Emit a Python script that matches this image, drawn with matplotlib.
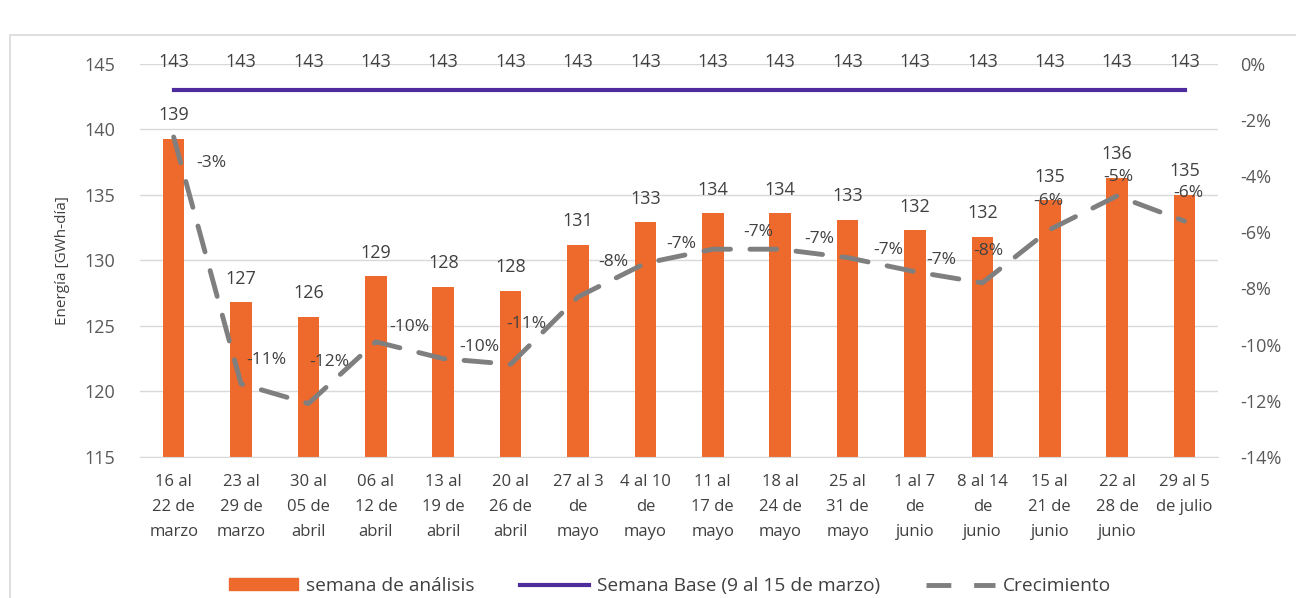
import matplotlib.pyplot as plt
import matplotlib.patches as patches
from matplotlib.ticker import FuncFormatter
from matplotlib.lines import Line2D

# Datos
semanas = [
    "16 al\n22 de\nmarzo", "23 al\n29 de\nmarzo", "30 al\n05 de\nabril",
    "06 al\n12 de\nabril", "13 al\n19 de\nabril", "20 al\n26 de\nabril",
    "27 al 3\nde\nmayo", "4 al 10\nde\nmayo", "11 al\n17 de\nmayo",
    "18 al\n24 de\nmayo", "25 al\n31 de\nmayo", "1 al 7\nde\njunio",
    "8 al 14\nde\njunio", "15 al\n21 de\njunio", "22 al\n28 de\njunio",
    "29 al 5\nde julio",
]
energia = [139.3, 126.8, 125.7, 128.8, 128.0, 127.7, 131.2, 132.9,
           133.6, 133.6, 133.1, 132.3, 131.8, 134.6, 136.3, 135.0]
semana_base = [143] * 16
crecimiento = [-2.6, -11.4, -12.1, -9.9, -10.5, -10.7, -8.3, -7.1,
               -6.6, -6.6, -6.9, -7.4, -7.8, -5.9, -4.7, -5.6]

# desplazamiento (px) de las etiquetas de crecimiento, como en el original
desplaz = [(23, -26), (5, 24), (1, 42), (13, 15), (16, 12), (-4, 40), (20, 35),
           (21, 19), (30, 17), (24, 10), (26, 8), (11, 12), (-9, 32), (-17, 29),
           (-14, 19), (-11, 28)]

NARANJA = '#EE6A2C'
MORADO = '#4E2C9E'
GRIS = '#7F7F7F'
TEXTO = '#404040'

plt.rcParams['font.family'] = ['Open Sans', 'DejaVu Sans']

fig = plt.figure(figsize=(12.96, 5.98), dpi=100)
ax = fig.add_axes([0.108, 0.236, 0.832, 0.657])
ax2 = ax.twinx()

x = list(range(len(semanas)))

# Barras
ax.bar(x, energia, width=0.32, color=NARANJA, zorder=2)
for xi, v in zip(x, energia):
    ax.annotate(f"{v:.0f}", (xi, v), xytext=(0, 10.5), textcoords='offset points',
                ha='center', va='bottom', fontsize=13, color=TEXTO)

# Semana base
ax.plot(x, semana_base, color=MORADO, linewidth=3, zorder=3)
for xi, v in zip(x, semana_base):
    ax.annotate(f"{v}", (xi, v), xytext=(0, 14), textcoords='offset points',
                ha='center', va='bottom', fontsize=13, color=TEXTO,
                annotation_clip=False)

# Crecimiento (eje secundario)
ax2.plot(x, crecimiento, color=GRIS, linewidth=3.5, dashes=(5.5, 4),
         dash_capstyle='round', zorder=4)
for xi, v, (dx, dy) in zip(x, crecimiento, desplaz):
    ax2.annotate(f"{v:.0f}%", (xi, v), xytext=(dx, dy), textcoords='offset pixels',
                 ha='left', va='center', fontsize=12.5, color=TEXTO)

ax.set_xlim(-0.5, len(semanas) - 0.5)
ax.set_ylim(115, 145)
ax.set_yticks(range(115, 146, 5))
ax2.set_ylim(-14, 0)
ax2.set_yticks(range(-14, 1, 2))
ax2.yaxis.set_major_formatter(FuncFormatter(lambda v, p: f"{v:.0f}%"))

ax.grid(axis='y', color='#D9D9D9', linewidth=1, zorder=0)
ax.set_axisbelow(True)
for a in (ax, ax2):
    for s in a.spines.values():
        s.set_visible(False)
ax.spines['bottom'].set_visible(True)
ax.spines['bottom'].set_color('#D9D9D9')

ax.set_xticks(x)
ax.set_xticklabels(semanas, fontsize=12, color=TEXTO, linespacing=1.76)
ax.tick_params(axis='x', length=0, pad=12)
ax.tick_params(axis='y', length=0, labelsize=13, labelcolor='#595959', pad=18)
ax2.tick_params(axis='y', length=0, labelsize=13, labelcolor='#595959', pad=16)
ax.set_ylabel("Energía [GWh-día]", fontsize=11, color=TEXTO, labelpad=10)

# Leyenda
handles = [
    patches.Patch(color=NARANJA),
    Line2D([], [], color=MORADO, linewidth=3),
    Line2D([], [], color=GRIS, linewidth=3.5, dashes=(5.1, 4.7)),
]
labels = ["semana de análisis", "Semana Base (9 al 15 de marzo)", "Crecimiento"]
fig.legend(handles, labels, loc='center', bbox_to_anchor=(0.517, 0.02), ncol=3,
           frameon=False, fontsize=13.8, handlelength=3.6, handleheight=0.55,
           handletextpad=0.4, columnspacing=2.4, labelcolor=TEXTO)

# Marco del gráfico
fig.patches.append(patches.Rectangle((10 / 1296, -0.1), 1.1, 1 - 35 / 598 + 0.1,
                                     transform=fig.transFigure, fill=False,
                                     edgecolor='#D9D9D9', linewidth=1.2))

fig.savefig('out.png', dpi=100)
